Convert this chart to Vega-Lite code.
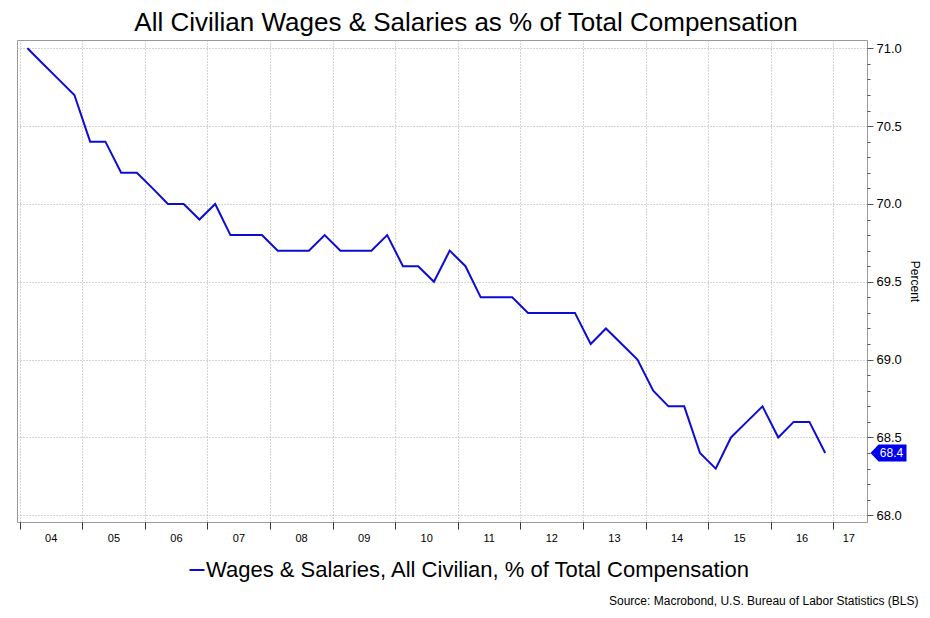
{
  "$schema": "https://vega.github.io/schema/vega-lite/v6.json",
  "autosize": "none",
  "width": 850,
  "height": 482,
  "padding": {"left": 17, "top": 40, "right": 63, "bottom": 96},
  "background": "white",
  "config": {
    "view": {"stroke": "#9a9a9a", "strokeWidth": 1},
    "font": "Liberation Sans"
  },
  "title": {
    "text": "All Civilian Wages & Salaries as % of Total Compensation",
    "fontSize": 26,
    "fontWeight": "normal",
    "font": "Liberation Sans",
    "color": "black",
    "anchor": "middle",
    "dx": 24,
    "offset": 4
  },
  "data": {
    "values": [
      {"date": "2004-02-15", "value": 71.0},
      {"date": "2004-05-15", "value": 70.9},
      {"date": "2004-08-15", "value": 70.8},
      {"date": "2004-11-15", "value": 70.7},
      {"date": "2005-02-15", "value": 70.4},
      {"date": "2005-05-15", "value": 70.4},
      {"date": "2005-08-15", "value": 70.2},
      {"date": "2005-11-15", "value": 70.2},
      {"date": "2006-02-15", "value": 70.1},
      {"date": "2006-05-15", "value": 70.0},
      {"date": "2006-08-15", "value": 70.0},
      {"date": "2006-11-15", "value": 69.9},
      {"date": "2007-02-15", "value": 70.0},
      {"date": "2007-05-15", "value": 69.8},
      {"date": "2007-08-15", "value": 69.8},
      {"date": "2007-11-15", "value": 69.8},
      {"date": "2008-02-15", "value": 69.7},
      {"date": "2008-05-15", "value": 69.7},
      {"date": "2008-08-15", "value": 69.7},
      {"date": "2008-11-15", "value": 69.8},
      {"date": "2009-02-15", "value": 69.7},
      {"date": "2009-05-15", "value": 69.7},
      {"date": "2009-08-15", "value": 69.7},
      {"date": "2009-11-15", "value": 69.8},
      {"date": "2010-02-15", "value": 69.6},
      {"date": "2010-05-15", "value": 69.6},
      {"date": "2010-08-15", "value": 69.5},
      {"date": "2010-11-15", "value": 69.7},
      {"date": "2011-02-15", "value": 69.6},
      {"date": "2011-05-15", "value": 69.4},
      {"date": "2011-08-15", "value": 69.4},
      {"date": "2011-11-15", "value": 69.4},
      {"date": "2012-02-15", "value": 69.3},
      {"date": "2012-05-15", "value": 69.3},
      {"date": "2012-08-15", "value": 69.3},
      {"date": "2012-11-15", "value": 69.3},
      {"date": "2013-02-15", "value": 69.1},
      {"date": "2013-05-15", "value": 69.2},
      {"date": "2013-08-15", "value": 69.1},
      {"date": "2013-11-15", "value": 69.0},
      {"date": "2014-02-15", "value": 68.8},
      {"date": "2014-05-15", "value": 68.7},
      {"date": "2014-08-15", "value": 68.7},
      {"date": "2014-11-15", "value": 68.4},
      {"date": "2015-02-15", "value": 68.3},
      {"date": "2015-05-15", "value": 68.5},
      {"date": "2015-08-15", "value": 68.6},
      {"date": "2015-11-15", "value": 68.7},
      {"date": "2016-02-15", "value": 68.5},
      {"date": "2016-05-15", "value": 68.6},
      {"date": "2016-08-15", "value": 68.6},
      {"date": "2016-11-15", "value": 68.4}
    ]
  },
  "layer": [
    {
      "mark": {"type": "line", "strokeWidth": 2, "clip": true},
      "encoding": {
        "x": {
          "field": "date",
          "type": "temporal",
          "scale": {
            "domain": [
              {"year": 2003, "month": 12, "date": 16},
              {"year": 2017, "month": 7, "date": 17}
            ],
            "nice": false
          },
          "axis": {
            "orient": "bottom",
            "tickCount": 40,
            "values": [
              {"year": 2004, "month": 1, "date": 1},
              {"year": 2005, "month": 1, "date": 1},
              {"year": 2006, "month": 1, "date": 1},
              {"year": 2007, "month": 1, "date": 1},
              {"year": 2008, "month": 1, "date": 1},
              {"year": 2009, "month": 1, "date": 1},
              {"year": 2010, "month": 1, "date": 1},
              {"year": 2011, "month": 1, "date": 1},
              {"year": 2012, "month": 1, "date": 1},
              {"year": 2013, "month": 1, "date": 1},
              {"year": 2014, "month": 1, "date": 1},
              {"year": 2015, "month": 1, "date": 1},
              {"year": 2016, "month": 1, "date": 1},
              {"year": 2017, "month": 1, "date": 1}
            ],
            "format": "%y",
            "labelOffset": {"condition": {"test": "year(datum.value) == 2017", "value": 15}, "value": 31},
            "labelFlush": false,
            "labelOverlap": false,
            "labelFontSize": 11,
            "labelColor": "black",
            "labelPadding": 3,
            "tickSize": 7,
            "tickColor": "#333333",
            "domain": false,
            "grid": true,
            "gridDash": [1, 2],
            "gridColor": "#a8a8a8",
            "title": "Source: Macrobond, U.S. Bureau of Labor Statistics (BLS)",
            "titleX": 901,
            "titleY": 78,
            "titleAlign": "right",
            "titleBaseline": "middle",
            "titleFontSize": 12,
            "titleFontWeight": "normal",
            "titleColor": "black"
          }
        },
        "y": {
          "field": "value",
          "type": "quantitative",
          "scale": {"domain": [67.957, 71.053], "nice": false, "zero": false},
          "axis": {
            "orient": "right",
            "tickCount": 40,
            "values": [68.0, 68.1, 68.2, 68.3, 68.4, 68.5, 68.6, 68.7, 68.8, 68.9, 69.0, 69.1, 69.2, 69.3, 69.4, 69.5, 69.6, 69.7, 69.8, 69.9, 70.0, 70.1, 70.2, 70.3, 70.4, 70.5, 70.6, 70.7, 70.8, 70.9, 71.0],
            "labelExpr": "round(datum.value * 10) % 5 == 0 ? format(datum.value, '.1f') : ''",
            "labelFontSize": 13,
            "labelColor": "black",
            "labelPadding": 3,
            "labelOverlap": false,
            "labelFlush": false,
            "tickSize": {"condition": {"test": "round(datum.value * 10) % 5 == 0", "value": 6}, "value": 3},
            "tickColor": "#555555",
            "domain": false,
            "grid": true,
            "gridDash": [1, 2],
            "gridColor": "#a8a8a8",
            "gridOpacity": {"condition": {"test": "round(datum.value * 10) % 5 == 0", "value": 1}, "value": 0},
            "title": "Percent",
            "titleFontSize": 12,
            "titleFontWeight": "normal",
            "titleColor": "black",
            "titleAngle": 90,
            "titlePadding": 6
          }
        },
        "color": {
          "datum": "Wages & Salaries, All Civilian, % of Total Compensation",
          "scale": {"range": ["#0c0cd2"]},
          "legend": {
            "orient": "none",
            "legendX": 169,
            "legendY": 519,
            "direction": "horizontal",
            "title": null,
            "symbolType": "stroke",
            "symbolSize": 225,
            "symbolStrokeWidth": 2,
            "labelFontSize": 22,
            "labelColor": "black",
            "labelOffset": -2,
            "labelLimit": 0,
            "padding": 0
          }
        }
      }
    },
    {
      "data": {"values": [{"value": 68.4, "label": "68.4"}]},
      "mark": {
        "type": "point",
        "shape": "M0,0L0.9,-0.94L4,-0.94L4,0.94L0.9,0.94Z",
        "size": 324,
        "filled": true,
        "opacity": 1,
        "color": "#0000ee",
        "strokeWidth": 0,
        "xOffset": 3.5
      },
      "encoding": {
        "x": {"value": "width"},
        "y": {"field": "value", "type": "quantitative"}
      }
    },
    {
      "data": {"values": [{"value": 68.4, "label": "68.4"}]},
      "mark": {"type": "text", "color": "white", "fontSize": 12, "align": "center", "baseline": "middle", "dx": 24.5},
      "encoding": {
        "x": {"value": "width"},
        "y": {"field": "value", "type": "quantitative"},
        "text": {"field": "label"}
      }
    }
  ]
}
